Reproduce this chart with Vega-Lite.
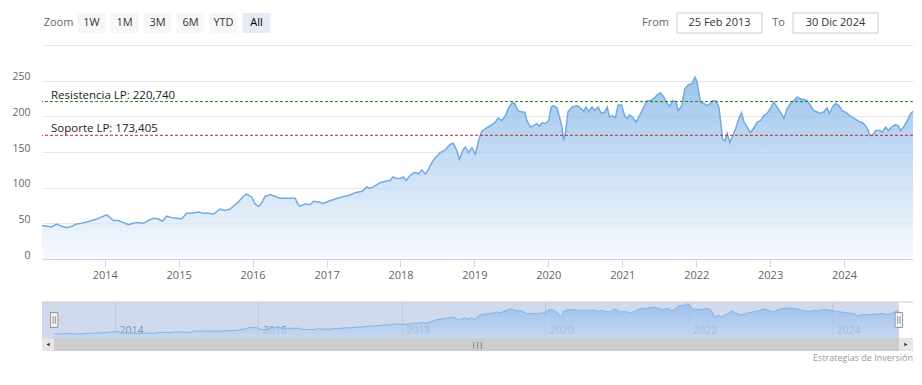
{
  "$schema": "https://vega.github.io/schema/vega-lite/v6.json",
  "padding": {"left": 11, "top": 12, "right": 10, "bottom": 0},
  "background": "white",
  "config": {"view": {"stroke": null}, "font": "Open Sans"},
  "datasets": {
    "price": [
      {"date":"2013-02-25","value":47},{"date":"2013-03-19","value":46},{"date":"2013-04-13","value":45},{"date":"2013-05-08","value":49},
      {"date":"2013-06-02","value":46},{"date":"2013-06-27","value":44},{"date":"2013-07-22","value":46},{"date":"2013-08-15","value":49},
      {"date":"2013-09-09","value":50},{"date":"2013-10-04","value":52},{"date":"2013-10-29","value":54},{"date":"2013-11-23","value":56},
      {"date":"2013-12-17","value":59},{"date":"2014-01-11","value":62},{"date":"2014-01-27","value":58},{"date":"2014-02-13","value":54},
      {"date":"2014-03-09","value":54},{"date":"2014-04-03","value":51},{"date":"2014-04-28","value":48},{"date":"2014-05-22","value":50},
      {"date":"2014-06-16","value":51},{"date":"2014-07-11","value":50},{"date":"2014-08-05","value":54},{"date":"2014-08-29","value":57},
      {"date":"2014-09-23","value":56},{"date":"2014-10-13","value":53},{"date":"2014-11-03","value":60},{"date":"2014-11-28","value":58},
      {"date":"2014-12-23","value":57},{"date":"2015-01-16","value":56},{"date":"2015-02-10","value":64},{"date":"2015-03-07","value":64},
      {"date":"2015-04-08","value":66},{"date":"2015-05-03","value":64},{"date":"2015-05-28","value":64},{"date":"2015-06-22","value":63},
      {"date":"2015-07-25","value":70},{"date":"2015-08-18","value":68},{"date":"2015-09-12","value":70},{"date":"2015-09-28","value":74},
      {"date":"2015-10-23","value":80},{"date":"2015-11-16","value":88},{"date":"2015-12-03","value":91},{"date":"2015-12-28","value":87},
      {"date":"2016-01-14","value":77},{"date":"2016-01-30","value":74},{"date":"2016-02-12","value":77},{"date":"2016-03-04","value":88},
      {"date":"2016-03-28","value":90},{"date":"2016-04-22","value":88},{"date":"2016-05-17","value":85},{"date":"2016-06-10","value":85},
      {"date":"2016-07-05","value":85},{"date":"2016-07-30","value":85},{"date":"2016-08-12","value":77},{"date":"2016-08-23","value":74},
      {"date":"2016-09-17","value":77},{"date":"2016-10-12","value":76},{"date":"2016-10-28","value":81},{"date":"2016-11-22","value":80},
      {"date":"2016-12-17","value":78},{"date":"2017-01-11","value":81},{"date":"2017-02-13","value":84},{"date":"2017-03-18","value":87},
      {"date":"2017-04-20","value":89},{"date":"2017-05-23","value":93},{"date":"2017-06-25","value":95},{"date":"2017-07-19","value":101},
      {"date":"2017-08-05","value":99},{"date":"2017-08-29","value":103},{"date":"2017-09-23","value":107},{"date":"2017-10-18","value":109},
      {"date":"2017-11-11","value":110},{"date":"2017-11-24","value":115},{"date":"2017-12-14","value":113},{"date":"2017-12-31","value":113},
      {"date":"2018-01-16","value":115},{"date":"2018-01-28","value":110},{"date":"2018-02-18","value":117},{"date":"2018-03-06","value":121},
      {"date":"2018-03-23","value":121},{"date":"2018-03-31","value":119},{"date":"2018-04-16","value":125},{"date":"2018-05-04","value":119},
      {"date":"2018-05-20","value":126},{"date":"2018-06-05","value":135},{"date":"2018-06-22","value":142},{"date":"2018-07-16","value":149},
      {"date":"2018-08-10","value":153},{"date":"2018-09-04","value":161},{"date":"2018-09-20","value":162},{"date":"2018-10-06","value":152},
      {"date":"2018-10-20","value":140},{"date":"2018-11-04","value":152},{"date":"2018-11-17","value":157},{"date":"2018-12-03","value":149},
      {"date":"2018-12-20","value":156},{"date":"2019-01-06","value":147},{"date":"2019-01-22","value":166},{"date":"2019-01-30","value":173},
      {"date":"2019-02-07","value":179},{"date":"2019-03-04","value":184},{"date":"2019-03-28","value":188},{"date":"2019-04-15","value":192},
      {"date":"2019-04-28","value":198},{"date":"2019-05-17","value":194},{"date":"2019-06-03","value":201},{"date":"2019-06-19","value":212},
      {"date":"2019-07-06","value":219},{"date":"2019-07-19","value":218},{"date":"2019-08-04","value":208},{"date":"2019-08-24","value":206},
      {"date":"2019-09-06","value":206},{"date":"2019-09-18","value":194},{"date":"2019-10-04","value":185},{"date":"2019-10-20","value":187},
      {"date":"2019-11-06","value":190},{"date":"2019-11-18","value":186},{"date":"2019-12-01","value":191},{"date":"2019-12-17","value":190},
      {"date":"2020-01-03","value":194},{"date":"2020-01-16","value":213},{"date":"2020-01-28","value":215},{"date":"2020-02-13","value":212},
      {"date":"2020-02-26","value":199},{"date":"2020-03-09","value":185},{"date":"2020-03-17","value":166},{"date":"2020-03-28","value":180},
      {"date":"2020-04-07","value":206},{"date":"2020-04-27","value":213},{"date":"2020-05-22","value":215},{"date":"2020-06-08","value":212},
      {"date":"2020-06-24","value":207},{"date":"2020-07-05","value":213},{"date":"2020-07-19","value":207},{"date":"2020-08-04","value":213},
      {"date":"2020-08-18","value":208},{"date":"2020-09-03","value":213},{"date":"2020-09-20","value":204},{"date":"2020-10-06","value":206},
      {"date":"2020-10-18","value":213},{"date":"2020-10-30","value":199},{"date":"2020-11-11","value":201},{"date":"2020-11-28","value":198},
      {"date":"2020-12-11","value":216},{"date":"2020-12-28","value":216},{"date":"2021-01-13","value":201},{"date":"2021-01-25","value":197},
      {"date":"2021-02-06","value":202},{"date":"2021-02-22","value":198},{"date":"2021-03-10","value":192},{"date":"2021-03-27","value":201},
      {"date":"2021-04-17","value":213},{"date":"2021-05-04","value":222},{"date":"2021-05-20","value":222},{"date":"2021-06-06","value":225},
      {"date":"2021-06-22","value":230},{"date":"2021-07-09","value":233},{"date":"2021-07-25","value":227},{"date":"2021-08-11","value":218},
      {"date":"2021-08-23","value":214},{"date":"2021-09-08","value":222},{"date":"2021-09-22","value":221},{"date":"2021-10-04","value":208},
      {"date":"2021-10-21","value":215},{"date":"2021-11-06","value":239},{"date":"2021-11-23","value":244},{"date":"2021-12-12","value":246},
      {"date":"2021-12-26","value":255},{"date":"2022-01-06","value":248},{"date":"2022-01-14","value":232},{"date":"2022-01-22","value":220},
      {"date":"2022-02-08","value":218},{"date":"2022-02-24","value":215},{"date":"2022-03-13","value":218},{"date":"2022-03-25","value":222},
      {"date":"2022-04-10","value":221},{"date":"2022-04-23","value":213},{"date":"2022-05-02","value":192},{"date":"2022-05-10","value":169},
      {"date":"2022-05-23","value":165},{"date":"2022-06-03","value":176},{"date":"2022-06-16","value":163},{"date":"2022-06-28","value":171},
      {"date":"2022-07-15","value":183},{"date":"2022-07-31","value":197},{"date":"2022-08-13","value":205},{"date":"2022-08-25","value":192},
      {"date":"2022-09-10","value":185},{"date":"2022-09-26","value":177},{"date":"2022-10-13","value":184},{"date":"2022-10-29","value":192},
      {"date":"2022-11-15","value":194},{"date":"2022-12-01","value":201},{"date":"2022-12-17","value":204},{"date":"2023-01-03","value":211},
      {"date":"2023-01-19","value":220},{"date":"2023-02-05","value":213},{"date":"2023-02-21","value":206},{"date":"2023-03-10","value":197},
      {"date":"2023-03-26","value":211},{"date":"2023-04-12","value":218},{"date":"2023-04-28","value":222},{"date":"2023-05-15","value":227},
      {"date":"2023-06-01","value":224},{"date":"2023-06-17","value":224},{"date":"2023-07-03","value":222},{"date":"2023-07-20","value":215},
      {"date":"2023-08-05","value":208},{"date":"2023-08-21","value":206},{"date":"2023-09-07","value":204},{"date":"2023-09-23","value":206},
      {"date":"2023-10-10","value":212},{"date":"2023-10-21","value":204},{"date":"2023-11-03","value":212},{"date":"2023-11-20","value":218},
      {"date":"2023-12-07","value":215},{"date":"2023-12-23","value":208},{"date":"2024-01-09","value":206},{"date":"2024-01-25","value":202},
      {"date":"2024-02-10","value":199},{"date":"2024-02-27","value":196},{"date":"2024-03-15","value":193},{"date":"2024-04-01","value":191},
      {"date":"2024-04-17","value":187},{"date":"2024-04-30","value":180},{"date":"2024-05-07","value":173},{"date":"2024-05-20","value":173},
      {"date":"2024-06-06","value":180},{"date":"2024-06-22","value":180},{"date":"2024-07-08","value":178},{"date":"2024-07-25","value":185},
      {"date":"2024-08-07","value":180},{"date":"2024-08-24","value":185},{"date":"2024-09-09","value":188},{"date":"2024-09-25","value":187},
      {"date":"2024-10-07","value":180},{"date":"2024-10-24","value":186},{"date":"2024-11-09","value":194},{"date":"2024-11-26","value":204},
      {"date":"2024-12-07","value":207}
    ],
    "levels": [
      {"level":"Resistencia LP","value":220.74,"label":"Resistencia LP: 220,740"},
      {"level":"Soporte LP","value":173.405,"label":"Soporte LP: 173,405"}
    ],
    "buttons": [{"label":"Zoom"},{"label":"1W"},{"label":"1M"},{"label":"3M"},{"label":"6M"},{"label":"YTD"},{"label":"All"}],
    "inputs": [{"box":"25 Feb 2013","label":"From"},{"box":"30 Dic 2024","label":"To"}]
  },
  "bounds": "flush",
  "spacing": 32,
  "resolve": {"scale": {"x": "independent", "y": "independent", "color": "independent"}},
  "vconcat": [
    {
      "bounds": "flush",
      "spacing": 404,
      "resolve": {"scale": {"x": "independent", "y": "independent", "color": "independent"}},
      "hconcat": [
        {
          "width": 231, "height": 20,
          "data": {"name": "buttons"},
          "layer": [
            {
              "transform": [{"filter": "datum.label !== 'Zoom'"}],
              "mark": {"type": "bar"},
              "encoding": {
                "x": {"field": "label", "type": "nominal", "sort": null, "axis": null,
                      "scale": {"domain": ["Zoom","1W","1M","3M","6M","YTD","All"], "paddingInner": 0.16, "paddingOuter": 0.08}},
                "color": {"condition": {"test": "datum.label === 'All'", "value": "#e6ebf5"}, "value": "#f7f7f7"}
              }
            },
            {
              "mark": {"type": "text", "fontSize": 11, "baseline": "middle"},
              "encoding": {
                "x": {"field": "label", "type": "nominal", "sort": null, "axis": null,
                      "scale": {"domain": ["Zoom","1W","1M","3M","6M","YTD","All"], "paddingInner": 0.16, "paddingOuter": 0.08}},
                "text": {"field": "label"},
                "color": {"condition": [{"test": "datum.label === 'Zoom'", "value": "#666666"}, {"test": "datum.label === 'All'", "value": "#000000"}], "value": "#333333"},
                "fontWeight": {"condition": {"test": "datum.label === 'All'", "value": "bold"}, "value": "normal"}
              }
            }
          ]
        },
        {
          "width": 201, "height": 20,
          "data": {"name": "inputs"},
          "layer": [
            {
              "mark": {"type": "bar", "fill": "#ffffff", "stroke": "#cccccc", "strokeWidth": 1},
              "encoding": {
                "x": {"field": "box", "type": "nominal", "sort": null, "axis": null, "scale": {"paddingInner": 0.267, "paddingOuter": 0}}
              }
            },
            {
              "mark": {"type": "text", "fontSize": 11, "color": "#333333", "baseline": "middle"},
              "encoding": {
                "x": {"field": "box", "type": "nominal", "sort": null, "axis": null, "scale": {"paddingInner": 0.267, "paddingOuter": 0}},
                "text": {"field": "box"}
              }
            },
            {
              "mark": {"type": "text", "fontSize": 11, "color": "#666666", "baseline": "middle", "align": "right", "dx": -8},
              "encoding": {
                "x": {"field": "box", "type": "nominal", "sort": null, "axis": null, "bandPosition": 0, "scale": {"paddingInner": 0.267, "paddingOuter": 0}},
                "text": {"field": "label"}
              }
            }
          ]
        }
      ]
    },
    {
      "bounds": "flush",
      "spacing": 43,
      "resolve": {"scale": {"x": "independent", "y": "independent", "color": "independent"}},
      "vconcat": [
        {
          "width": 871, "height": 214,
          "encoding": {
            "y": {"type": "quantitative",
                  "scale": {"domain": [0, 300], "nice": false},
                  "axis": {"title": null, "values": [0, 50, 100, 150, 200, 250, 300], "tickCount": 7, "grid": true,
                           "labelExpr": "datum.value === 300 ? '' : datum.label",
                           "labelOverlap": false, "labelBound": false,
                           "domain": false, "ticks": false, "gridColor": "#e6e6e6",
                           "labelPadding": 12, "labelColor": "#666666", "labelFontSize": 10.5,
                           "labelBaseline": "alphabetic", "labelOffset": -1}}
          },
          "layer": [
            {
              "data": {"name": "price"},
              "mark": {"type": "area",
                       "color": {"gradient": "linear", "x1": 0, "y1": 0, "x2": 0, "y2": 1,
                                 "stops": [{"offset": 0, "color": "#73abe4"}, {"offset": 1, "color": "#f5f8fd"}]},
                       "line": {"color": "#72aae2", "strokeWidth": 1.5}},
              "encoding": {
                "x": {"field": "date", "type": "temporal",
                      "scale": {"type": "utc", "nice": false,
                                "domain": [{"year": 2013, "month": 2, "date": 25, "utc": true}, {"year": 2024, "month": 12, "date": 7, "utc": true}]},
                      "axis": {"title": null, "format": "%Y", "grid": false, "labelOverlap": false, "labelFlush": false,
                               "values": [{"year":2014,"utc":true},{"year":2015,"utc":true},{"year":2016,"utc":true},{"year":2017,"utc":true},{"year":2018,"utc":true},{"year":2019,"utc":true},{"year":2020,"utc":true},{"year":2021,"utc":true},{"year":2022,"utc":true},{"year":2023,"utc":true},{"year":2024,"utc":true}],
                               "domainColor": "#ccd6eb", "tickColor": "#ccd6eb", "tickSize": 8, "labelPadding": 2,
                               "labelColor": "#666666", "labelFontSize": 11}},
                "y": {"field": "value"}
              }
            },
            {
              "data": {"name": "levels"},
              "transform": [{"filter": "datum.level === 'Resistencia LP'"}],
              "mark": {"type": "rule", "strokeDash": [3, 2], "strokeWidth": 1, "color": "#1c8c1c"},
              "encoding": {"y": {"field": "value"}}
            },
            {
              "data": {"name": "levels"},
              "transform": [{"filter": "datum.level === 'Soporte LP'"}],
              "mark": {"type": "rule", "strokeDash": [3, 2], "strokeWidth": 1, "color": "#cc1f36"},
              "encoding": {"y": {"field": "value"}}
            },
            {
              "data": {"name": "levels"},
              "mark": {"type": "text", "align": "left", "baseline": "alphabetic", "dx": 9, "dy": -3, "fontSize": 11.5, "color": "#222222"},
              "encoding": {
                "x": {"datum": {"year": 2013, "month": 2, "date": 25, "utc": true}, "type": "temporal"},
                "y": {"field": "value"},
                "text": {"field": "label"}
              }
            }
          ]
        },
        {
          "bounds": "flush",
          "spacing": 0,
          "resolve": {"scale": {"x": "independent", "y": "independent", "color": "independent"}},
          "vconcat": [
            {
              "width": 871, "height": 36,
              "layer": [
                {
                  "data": {"values": [{}]},
                  "mark": {"type": "rect", "color": "#6685c2", "opacity": 0.3},
                  "encoding": {
                    "x": {"datum": {"year": 2012, "month": 12, "date": 25, "utc": true}, "type": "temporal",
                          "scale": {"type": "utc", "nice": false,
                                    "domain": [{"year": 2012, "month": 12, "date": 25, "utc": true}, {"year": 2025, "month": 2, "date": 17, "utc": true}]},
                          "axis": {"title": null, "format": "%Y", "grid": true, "gridColor": "#e6e6e6", "domain": false, "ticks": false,
                                   "values": [{"year":2014,"utc":true},{"year":2016,"utc":true},{"year":2018,"utc":true},{"year":2020,"utc":true},{"year":2022,"utc":true},{"year":2024,"utc":true}],
                                   "labelAlign": "left", "labelOffset": 4, "labelPadding": -8, "labelBaseline": "middle",
                                   "labelColor": "#8c93a3", "labelFontSize": 10.5, "labelFlush": false, "labelBound": false, "labelOverlap": false}},
                    "x2": {"datum": {"year": 2024, "month": 12, "date": 7, "utc": true}}
                  }
                },
                {
                  "data": {"name": "price"},
                  "mark": {"type": "area",
                           "color": {"gradient": "linear", "x1": 0, "y1": 0, "x2": 0, "y2": 1,
                                     "stops": [{"offset": 0, "color": "#86b6ea"}, {"offset": 1, "color": "#c3d6f1"}]},
                           "line": {"color": "#7cb5ec", "strokeWidth": 1}},
                  "encoding": {
                    "x": {"field": "date", "type": "temporal"},
                    "y": {"field": "value", "type": "quantitative", "axis": null, "scale": {"domain": [17, 268], "nice": false, "zero": false}},
                    "y2": {"datum": 17}
                  }
                },
                {
                  "data": {"values": [{}]},
                  "mark": {"type": "rule", "color": "#cccccc", "strokeWidth": 1},
                  "encoding": {"y": {"datum": 268, "type": "quantitative"}}
                },
                {
                  "data": {"values": [{}]},
                  "mark": {"type": "point", "shape": "M-0.5,-1H0.5V1H-0.5Z M-0.15,-0.5V0.5 M0.15,-0.5V0.5", "size": 225, "filled": true, "fill": "#f2f2f2", "stroke": "#999999", "strokeWidth": 1, "opacity": 1},
                  "encoding": {
                    "x": {"datum": {"year": 2013, "month": 2, "date": 25, "utc": true}, "type": "temporal"},
                    "y": {"datum": 142.5, "type": "quantitative"}
                  }
                },
                {
                  "data": {"values": [{}]},
                  "mark": {"type": "point", "shape": "M-0.5,-1H0.5V1H-0.5Z M-0.15,-0.5V0.5 M0.15,-0.5V0.5", "size": 225, "filled": true, "fill": "#f2f2f2", "stroke": "#999999", "strokeWidth": 1, "opacity": 1},
                  "encoding": {
                    "x": {"datum": {"year": 2024, "month": 12, "date": 7, "utc": true}, "type": "temporal"},
                    "y": {"datum": 142.5, "type": "quantitative"}
                  }
                }
              ]
            },
            {
              "width": 871, "height": 13,
              "title": {"text": "Estrategias de Inversión", "orient": "bottom", "anchor": "end", "fontSize": 9, "fontWeight": "normal", "color": "#999999", "offset": 3},
              "data": {"values": [{}]},
              "layer": [
                {
                  "mark": {"type": "rect", "color": "#e6e6e6"},
                  "encoding": {
                    "x": {"datum": {"year": 2012, "month": 12, "date": 25, "utc": true}, "type": "temporal",
                          "axis": null,
                          "scale": {"type": "utc", "nice": false,
                                    "domain": [{"year": 2012, "month": 12, "date": 25, "utc": true}, {"year": 2025, "month": 2, "date": 17, "utc": true}]}},
                    "x2": {"datum": {"year": 2025, "month": 2, "date": 17, "utc": true}}
                  }
                },
                {
                  "mark": {"type": "rect", "color": "#cdcdcd"},
                  "encoding": {
                    "x": {"datum": {"year": 2013, "month": 2, "date": 25, "utc": true}, "type": "temporal"},
                    "x2": {"datum": {"year": 2024, "month": 12, "date": 7, "utc": true}}
                  }
                },
                {
                  "mark": {"type": "point", "shape": "triangle-left", "size": 14, "filled": true, "color": "#333333", "opacity": 1},
                  "encoding": {
                    "x": {"datum": {"year": 2013, "month": 1, "date": 25, "utc": true}, "type": "temporal"}
                  }
                },
                {
                  "mark": {"type": "point", "shape": "triangle-right", "size": 14, "filled": true, "color": "#333333", "opacity": 1},
                  "encoding": {
                    "x": {"datum": {"year": 2025, "month": 1, "date": 12, "utc": true}, "type": "temporal"}
                  }
                },
                {
                  "mark": {"type": "text", "text": "|||", "fontSize": 7, "color": "#333333", "baseline": "middle"},
                  "encoding": {
                    "x": {"datum": {"year": 2019, "month": 1, "date": 21, "utc": true}, "type": "temporal"}
                  }
                }
              ]
            }
          ]
        }
      ]
    }
  ]
}
